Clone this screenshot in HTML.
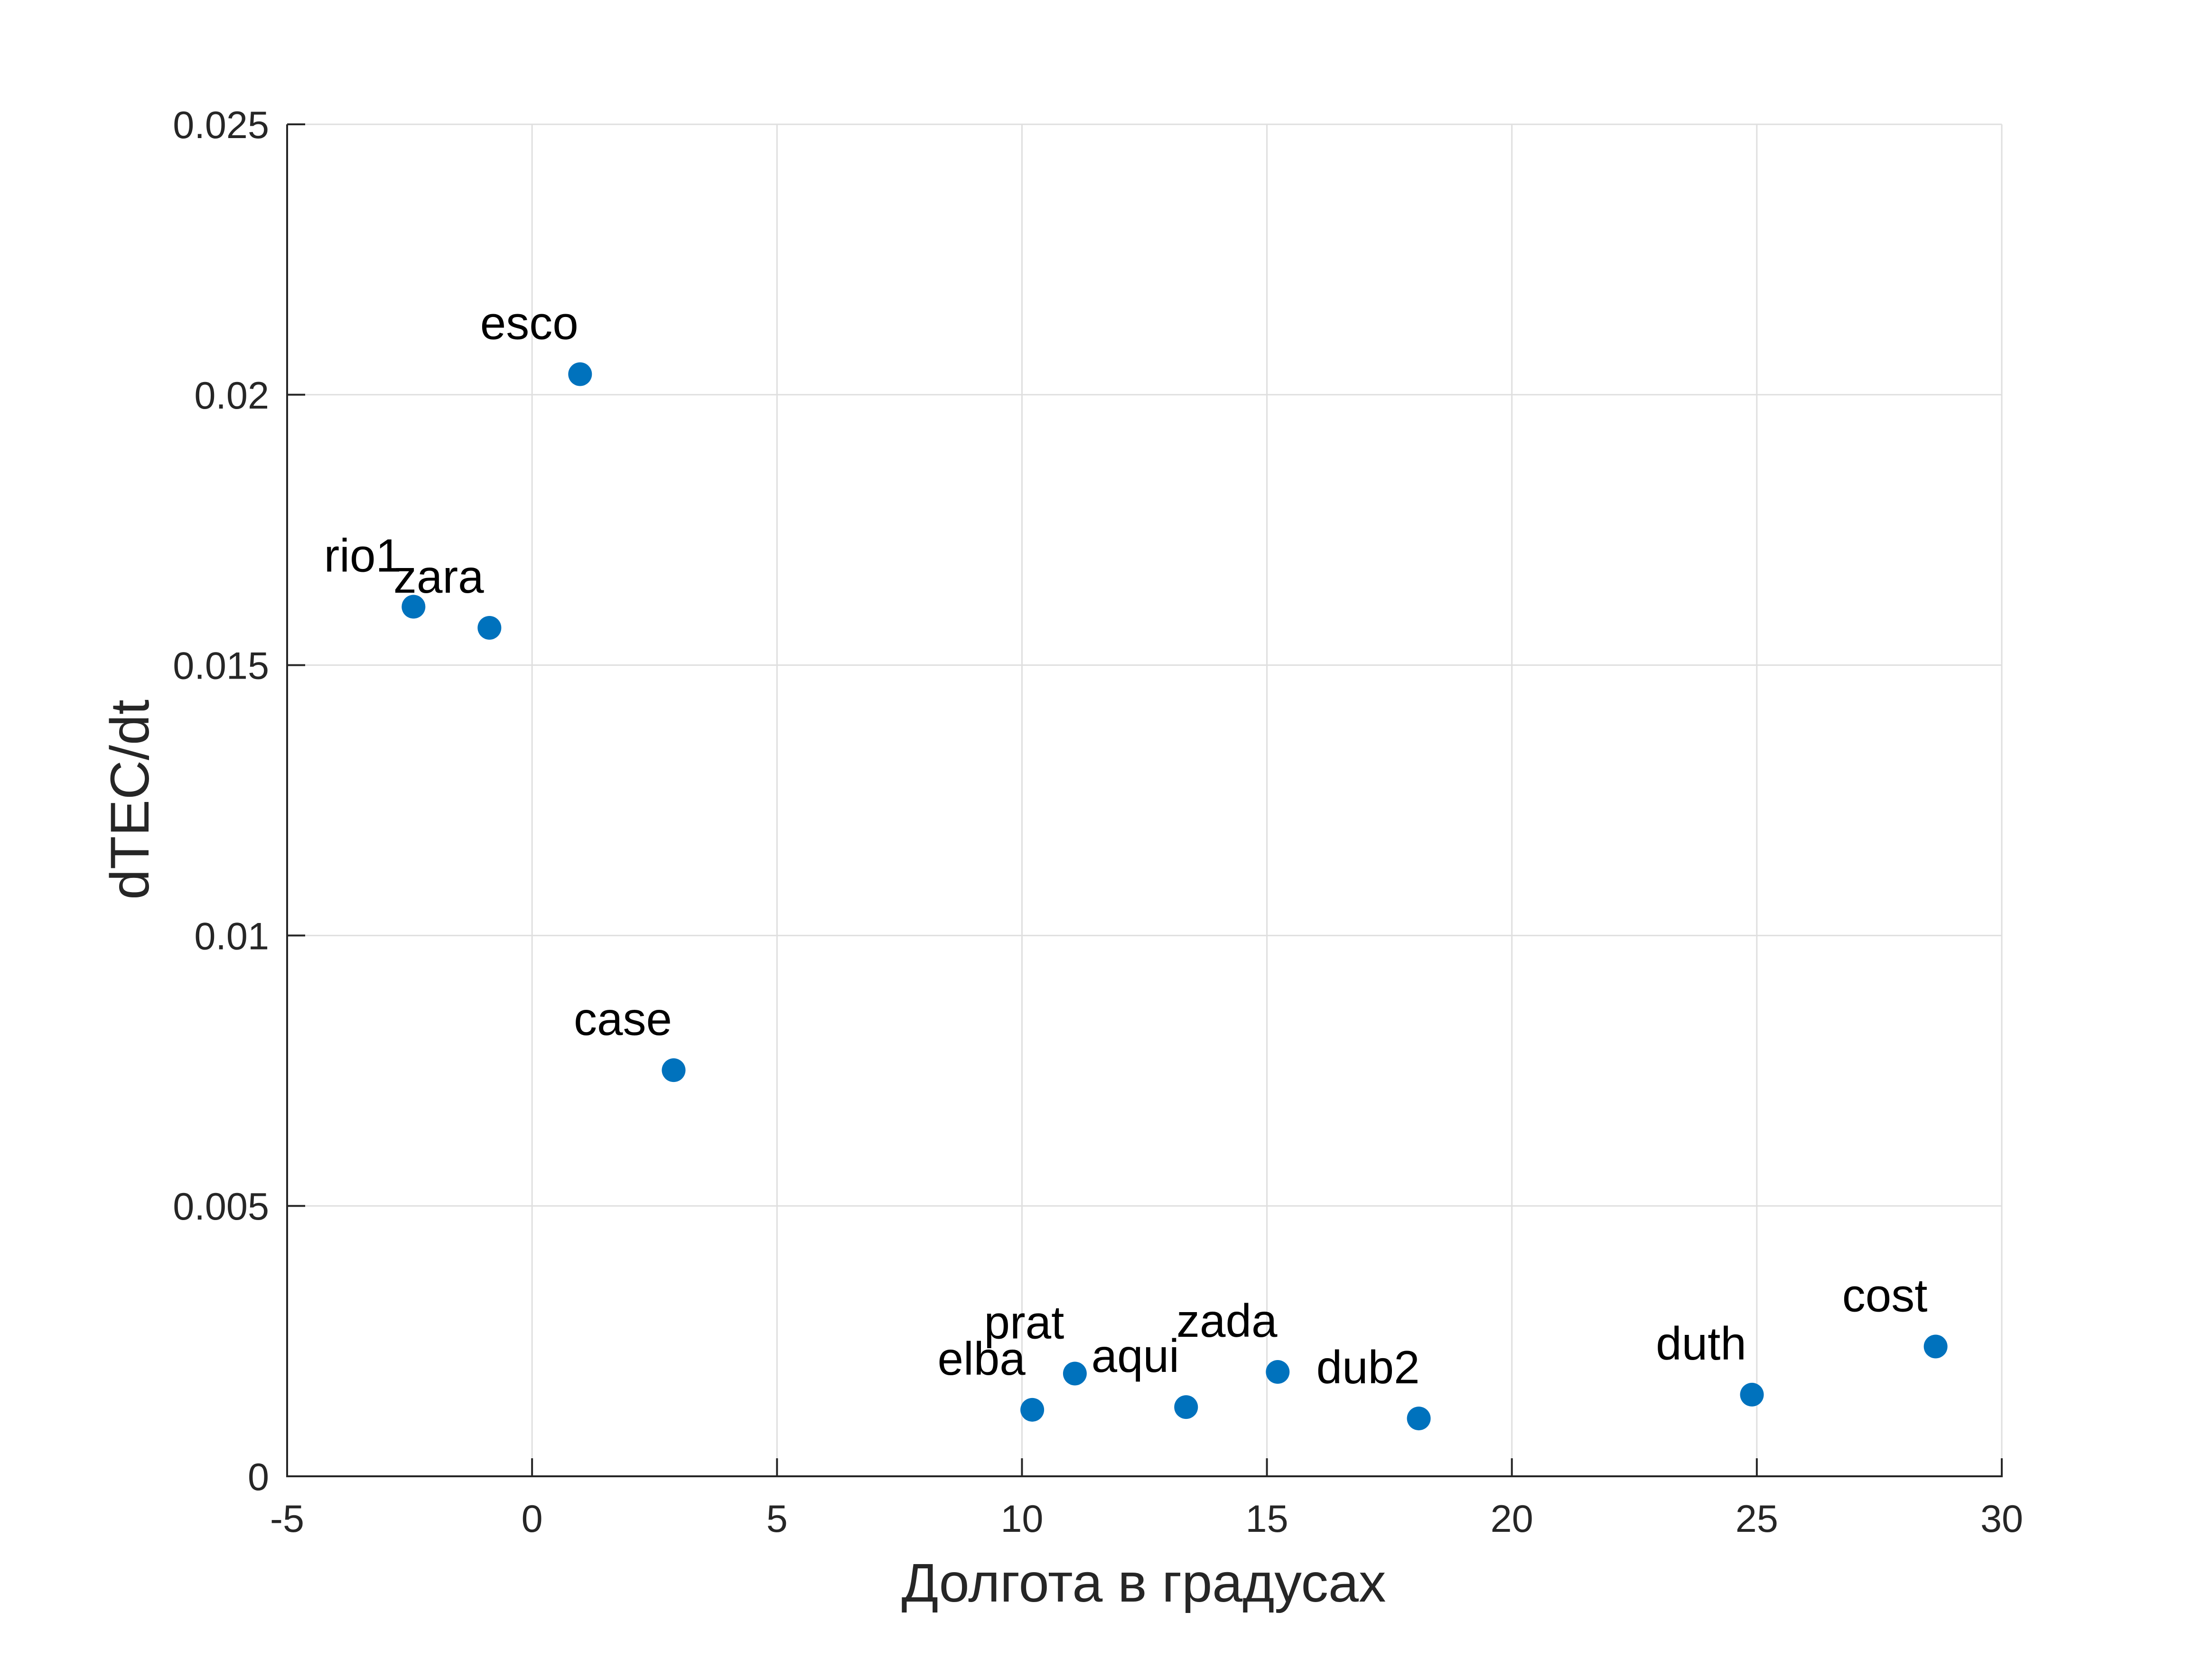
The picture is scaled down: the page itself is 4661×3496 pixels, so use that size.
<!DOCTYPE html>
<html><head><meta charset="utf-8"><style>
html,body{margin:0;padding:0;background:#fff;}
svg{display:block;font-family:"Liberation Sans",Arial,sans-serif;}
</style></head><body>
<svg id="chart" width="4661" height="3496" viewBox="0 0 4661 3496" xmlns="http://www.w3.org/2000/svg">
<rect x="0" y="0" width="4661" height="3496" fill="#fff"/>
<g id="grid"></g>
<g id="axes"></g>
<g id="points"></g>
<g id="labels"></g>
<text x="2410" y="3375" font-size="115" fill="#262626" text-anchor="middle">Долгота в градусах</text>
<text x="313" y="1685" font-size="115" fill="#262626" text-anchor="middle" transform="rotate(-90 313 1685)">dTEC/dt</text>
</svg>
<script>
const stations = ["esco","rio1","zara","case","elba","prat","aqui","zada","dub2","duth","cost"];
const longitudes = [0.98,-2.42,-0.87,2.89,10.21,11.08,13.35,15.22,18.10,24.90,28.65];
const dtecValues = [0.02038,0.01608,0.01569,0.00751,0.00123,0.00190,0.00128,0.00193,0.00107,0.00151,0.00240];
const xTicks = [-5,0,5,10,15,20,25,30];
const yTicks = [0,0.005,0.01,0.015,0.02,0.025];
const yTickLabels = ["0","0.005","0.01","0.015","0.02","0.025"];

const L=605,R=4218,T=262,B=3111;
const xMin=-5,xMax=30,yMin=0,yMax=0.025;
function sx(v){return L+(v-xMin)/(xMax-xMin)*(R-L);}
function sy(v){return B-(v-yMin)/(yMax-yMin)*(B-T);}
const NS="http://www.w3.org/2000/svg";
function mk(tag,attrs,parent){const e=document.createElementNS(NS,tag);for(const k in attrs)e.setAttribute(k,attrs[k]);parent.appendChild(e);return e;}
const grid=document.getElementById('grid'),axes=document.getElementById('axes'),pts=document.getElementById('points'),lbl=document.getElementById('labels');

xTicks.forEach(function(t){
  const g=mk('line',{x1:sx(t),x2:sx(t),y1:T,y2:B,stroke:'#dfdfdf','stroke-width':3},grid);
  
  
  const tk=mk('line',{x1:sx(t),x2:sx(t),y1:B,y2:B-38,stroke:'#262626','stroke-width':4},axes);
  
  
  const tx=mk('text',{x:sx(t),y:3228,'font-size':81,fill:'#262626','text-anchor':'middle'},axes);
  tx.textContent=String(t);
  
  
});
yTicks.forEach(function(t,i){
  const g=mk('line',{x1:L,x2:R,y1:sy(t),y2:sy(t),stroke:'#dfdfdf','stroke-width':3},grid);
  
  
  const tk=mk('line',{x1:L,x2:L+38,y1:sy(t),y2:sy(t),stroke:'#262626','stroke-width':4},axes);
  
  
  const tx=mk('text',{x:567,y:sy(t)+29,'font-size':81,fill:'#262626','text-anchor':'end'},axes);
  tx.textContent=yTickLabels[i];
  
  
});
const xa=mk('line',{x1:L-2,x2:R+2,y1:B,y2:B,stroke:'#262626','stroke-width':4},axes);


const ya=mk('line',{x1:L,x2:L,y1:T,y2:B+2,stroke:'#262626','stroke-width':4},axes);



stations.forEach(function(s,i){
  const px=sx(longitudes[i]),py=sy(dtecValues[i]);
  const c=mk('circle',{cx:px,cy:py,r:25,fill:'#0072BD'},pts);
  
  
  const t=mk('text',{x:px-107,y:py-74,'font-size':98,fill:'#000','text-anchor':'middle'},lbl);
  t.textContent=s;
  
  
});
</script>
</body></html>
